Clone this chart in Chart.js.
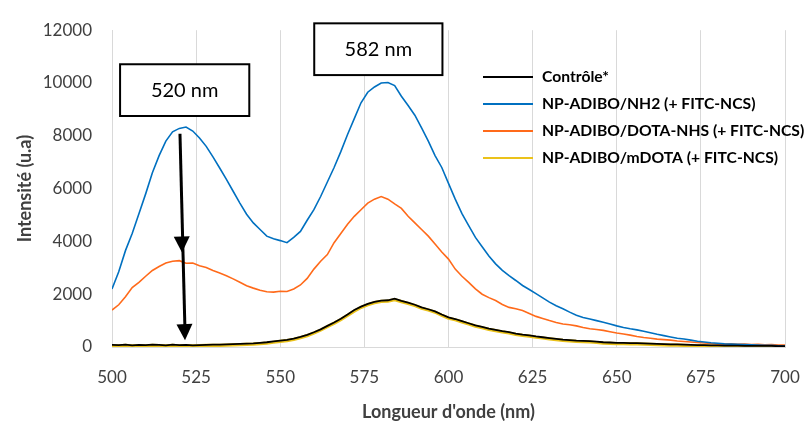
<!DOCTYPE html>
<html>
<head>
<meta charset="utf-8">
<script src="https://cdn.jsdelivr.net/npm/chart.js@4/dist/chart.umd.min.js"></script>
<style>
  html, body { margin: 0; padding: 0; background: #fff; }
  #wrap { width: 811px; height: 427px; position: relative; }
</style>
</head>
<body>
<div id="wrap"><canvas id="chart"></canvas></div>
<script>
// wavelengths (nm)
const wavelengths = [500,502,504,506,508,510,512,514,516,518,520,522,524,526,528,530,532,534,536,538,540,542,544,546,548,550,552,554,556,558,560,562,564,566,568,570,572,574,576,578,580,582,584,586,588,590,592,594,596,598,600,602,604,606,608,610,612,614,616,618,620,622,624,626,628,630,632,634,636,638,640,642,644,646,648,650,652,654,656,658,660,662,664,666,668,670,672,674,676,678,680,682,684,686,688,690,692,694,696,698,700];

const controle = [80,70,90,60,80,70,90,80,60,90,70,80,60,70,80,90,90,100,110,120,130,140,160,180,210,240,270,320,380,460,560,670,800,930,1070,1230,1400,1530,1630,1710,1760,1770,1830,1750,1680,1600,1500,1430,1350,1230,1120,1060,980,900,820,760,700,650,600,560,510,470,440,400,370,340,310,280,260,240,230,220,200,180,170,160,160,150,150,140,130,120,110,100,100,90,80,70,70,60,60,50,50,50,40,40,40,40,40,30,30];

const nh2 = [2200,2850,3650,4300,5050,5800,6600,7250,7800,8150,8280,8330,8180,7920,7600,7200,6780,6350,5900,5450,5030,4700,4450,4200,4100,4030,3950,4150,4380,4800,5200,5700,6250,6800,7400,8050,8650,9250,9650,9850,10000,10020,9900,9500,9150,8780,8300,7800,7250,6800,6200,5600,5050,4600,4150,3800,3450,3150,2900,2700,2520,2330,2180,2020,1860,1700,1560,1450,1320,1200,1120,1060,1000,940,870,800,740,690,650,600,540,480,430,380,330,300,260,220,190,160,140,120,110,100,90,80,70,60,60,50,40];

const dotaNhs = [1400,1600,1900,2250,2450,2680,2900,3050,3180,3250,3270,3170,3180,3080,3010,2900,2800,2700,2580,2450,2320,2230,2150,2090,2080,2110,2100,2200,2350,2600,2950,3250,3500,3950,4300,4650,4950,5200,5450,5600,5700,5600,5420,5250,4950,4700,4450,4200,3900,3600,3330,2950,2680,2450,2200,2000,1870,1760,1610,1500,1450,1380,1270,1160,1080,1000,930,870,840,800,740,690,660,630,580,530,490,450,400,360,330,300,280,260,230,210,190,170,150,130,120,110,120,100,110,90,100,80,90,70,70];

const mdota = [50,40,60,40,50,40,60,50,40,60,40,50,40,50,60,60,60,70,80,90,100,110,130,150,180,210,240,290,350,430,530,640,770,900,1040,1200,1360,1500,1600,1680,1730,1740,1790,1720,1650,1570,1470,1400,1320,1200,1090,1030,950,870,790,730,670,620,570,530,480,440,410,370,340,310,280,250,230,210,200,190,170,150,140,130,130,120,120,110,100,90,80,70,70,60,50,40,40,30,30,20,20,20,10,10,10,10,10,0,0];

const yTicks = [0, 2000, 4000, 6000, 8000, 10000, 12000];
const xTicks = [500, 525, 550, 575, 600, 625, 650, 675, 700];

const seriesLabels = ['Contrôle*', 'NP-ADIBO/NH2 (+ FITC-NCS)', 'NP-ADIBO/DOTA-NHS (+ FITC-NCS)', 'NP-ADIBO/mDOTA (+ FITC-NCS)'];
const seriesColors = ['#000000', '#0070C0', '#FF6A1A', '#EBC21A'];
const seriesWidths = [1.8, 1.6, 1.6, 3.2];

// peak annotations, in data units
const peakBoxes = [
  { text: '520 nm', x0: 502.4, x1: 540.8, y0: 10710, y1: 8750 },
  { text: '582 nm', x0: 560.1, x1: 598.2, y0: 12260, y1: 10300 }
];
const arrowPath = [[520.2, 8080], [520.8, 3580], [521.7, 260]];

const FONT = 'Lato, "Open Sans", sans-serif';

function pts(vals) {
  return wavelengths.map((w, i) => ({ x: w, y: vals[i] }));
}

const allSeries = [controle, nh2, dotaNhs, mdota];

const annotationPlugin = {
  id: 'peaks',
  afterDatasetsDraw(chart) {
    const { ctx, scales: { x, y } } = chart;
    ctx.save();
    // boxes
    peakBoxes.forEach(b => {
      const l = x.getPixelForValue(b.x0), r = x.getPixelForValue(b.x1);
      const t = y.getPixelForValue(b.y0), bt = y.getPixelForValue(b.y1);
      ctx.fillStyle = '#fff';
      ctx.fillRect(l, t, r - l, bt - t);
      ctx.strokeStyle = '#000';
      ctx.lineWidth = 2;
      ctx.strokeRect(l, t, r - l, bt - t);
      ctx.fillStyle = '#000';
      ctx.font = '20px ' + FONT;
      ctx.textAlign = 'center';
      ctx.textBaseline = 'middle';
      ctx.fillText(b.text, (l + r) / 2, (t + bt) / 2);
    });
    // arrow with two heads
    const p = arrowPath.map(a => [x.getPixelForValue(a[0]), y.getPixelForValue(a[1])]);
    ctx.strokeStyle = '#000';
    ctx.lineWidth = 3;
    ctx.beginPath();
    ctx.moveTo(p[0][0], p[0][1]);
    ctx.lineTo(p[2][0], p[2][1] - 8);
    ctx.stroke();
    [p[1], p[2]].forEach((tip, i) => {
      const from = i === 0 ? p[0] : p[1];
      const ang = Math.atan2(tip[1] - from[1], tip[0] - from[0]);
      const len = 16, w = 8;
      ctx.beginPath();
      ctx.moveTo(tip[0], tip[1]);
      ctx.lineTo(tip[0] - len * Math.cos(ang) + w * Math.sin(ang), tip[1] - len * Math.sin(ang) - w * Math.cos(ang));
      ctx.lineTo(tip[0] - len * Math.cos(ang) - w * Math.sin(ang), tip[1] - len * Math.sin(ang) + w * Math.cos(ang));
      ctx.closePath();
      ctx.fillStyle = '#000';
      ctx.fill();
    });
    ctx.restore();
  }
};

const legendPlugin = {
  id: 'insideLegend',
  afterDraw(chart) {
    const { ctx } = chart;
    ctx.save();
    ctx.font = 'bold 15.7px ' + FONT;
    ctx.textBaseline = 'middle';
    ctx.textAlign = 'left';
    chart.data.datasets.forEach((ds, i) => {
      const yy = 77 + i * 27;
      ctx.strokeStyle = ds.borderColor;
      ctx.lineWidth = 2;
      ctx.beginPath();
      ctx.moveTo(483, yy);
      ctx.lineTo(533, yy);
      ctx.stroke();
      ctx.fillStyle = '#000';
      ctx.fillText(ds.label, 542, yy);
    });
    ctx.restore();
  }
};

new Chart(document.getElementById('chart'), {
  type: 'line',
  data: {
    datasets: allSeries.map((s, i) => ({
      label: seriesLabels[i],
      data: pts(s),
      borderColor: seriesColors[i],
      backgroundColor: seriesColors[i],
      borderWidth: seriesWidths[i],
      pointRadius: 0,
      tension: 0,
      fill: false
    }))
  },
  options: {
    responsive: true,
    maintainAspectRatio: false,
    animation: false,
    layout: { padding: { top: 22, right: 26, left: 0, bottom: 0 } },
    plugins: {
      legend: { display: false },
      tooltip: { enabled: false }
    },
    scales: {
      x: {
        type: 'linear',
        min: 500,
        max: 700,
        afterBuildTicks: s => { s.ticks = xTicks.map(v => ({ value: v })); },
        afterFit: s => { s.height = 80; s.paddingLeft = 0; s.paddingRight = 0; },
        grid: { color: '#d9d9d9', drawTicks: false, lineWidth: 1 },
        border: { color: '#d9d9d9' },
        ticks: { color: '#404040', font: { family: FONT, size: 17 }, padding: 20, maxRotation: 0 },
        title: { display: true, text: "Longueur d'onde (nm)", color: '#404040', font: { family: FONT, size: 18, weight: 'bold' }, padding: { top: 0, bottom: 4 } }
      },
      y: {
        min: 0,
        max: 12000,
        afterBuildTicks: s => { s.ticks = yTicks.map(v => ({ value: v })); },
        afterFit: s => { s.width = 112; },
        grid: { display: false, drawTicks: false },
        border: { color: '#d9d9d9' },
        ticks: { color: '#404040', font: { family: FONT, size: 17 }, padding: 20, callback: v => String(v) },
        title: { display: true, text: 'Intensité (u.a)', color: '#404040', font: { family: FONT, size: 18, weight: 'bold' }, padding: { top: 14 } }
      }
    }
  },
  plugins: [annotationPlugin, legendPlugin]
});
</script>
</body>
</html>
